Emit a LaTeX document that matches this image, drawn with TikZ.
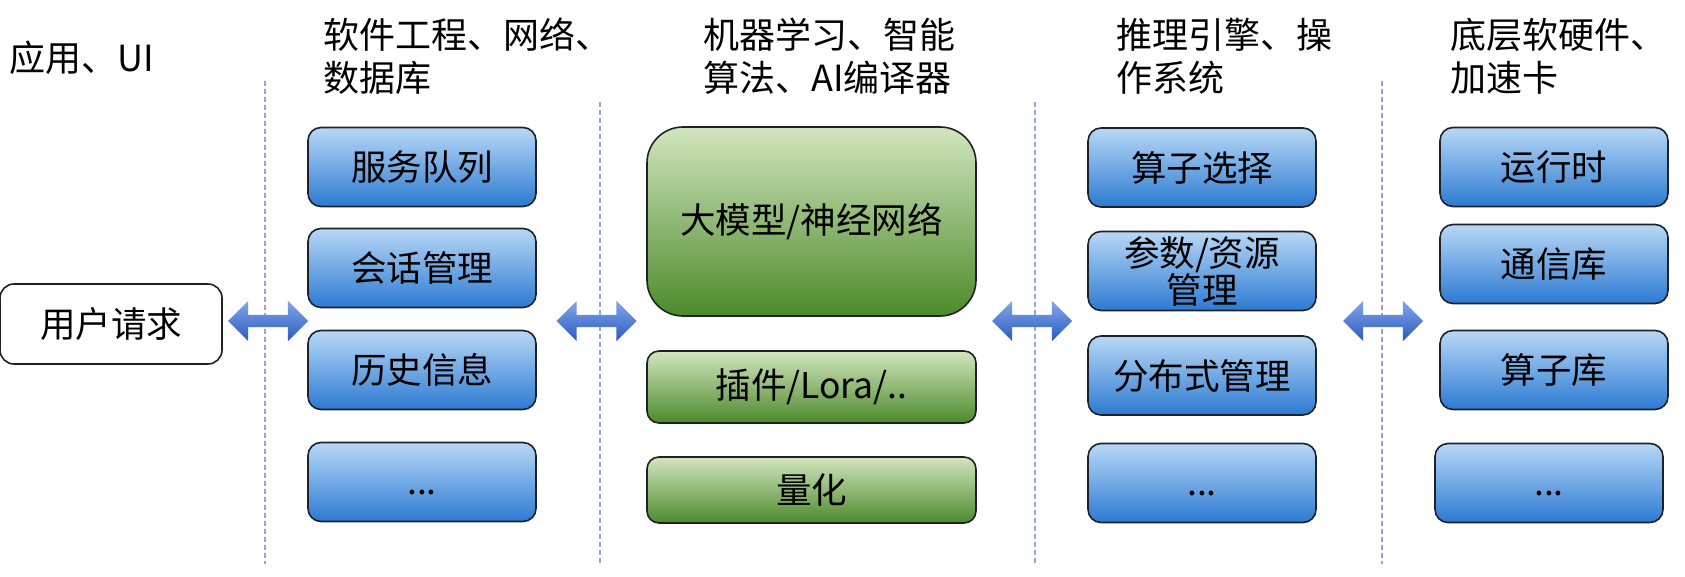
\documentclass[tikz,border=0pt]{standalone}
\usepackage{fontspec}
\setmainfont{Noto Sans CJK SC}
\usetikzlibrary{shapes.arrows}
\definecolor{blueTop}{HTML}{B8D8F6}
\definecolor{blueMid}{HTML}{6AA8E6}
\definecolor{blueBot}{HTML}{2C7AD2}
\definecolor{greenTop}{HTML}{D2E6BE}
\definecolor{greenMid}{HTML}{72A848}
\definecolor{greenBot}{HTML}{4C8A2B}
\definecolor{arrTop}{HTML}{82A8EA}
\definecolor{arrBot}{HTML}{2A5ABE}
\definecolor{sepcol}{HTML}{97A6D6}
\definecolor{edge}{HTML}{1E2228}
\newcommand{\dotsrow}{\vphantom{服}...}
\begin{document}
\begin{tikzpicture}[x=1pt,y=-1pt,
  boxbase/.style={draw=edge, line width=1.6pt, inner sep=0pt, align=center,
    font=\fontsize{35.5}{37}\selectfont},
  bluebox/.style={boxbase, rounded corners=13pt, top color=blueTop, middle color=blueMid,
    bottom color=blueBot, minimum width=228pt, minimum height=79pt},
  greenbox/.style={boxbase, rounded corners=12pt, top color=greenTop, middle color=greenMid,
    bottom color=greenBot, minimum width=329pt},
  whitebox/.style={boxbase, rounded corners=14pt, fill=white},
  title/.style={anchor=north west, inner sep=0pt, align=left,
    font=\fontsize{36}{43}\selectfont},
  dblarrow/.style={double arrow, double arrow head extend=14pt, inner xsep=0pt,
    inner ysep=6pt, minimum height=80pt, top color=arrTop, bottom color=arrBot,
    draw=none},
  sepline/.style={draw=sepcol, line width=1.4pt, dash pattern=on 5pt off 3pt}
]
\useasboundingbox (0,0) rectangle (1685,577);
\fill[white] (0,0) rectangle (1685,577);

% separators
\draw[sepline] (265,81) -- (265,564);
\draw[sepline] (600,102) -- (600,564);
\draw[sepline] (1035,102) -- (1035,564);
\draw[sepline] (1382,81) -- (1382,564);

% titles
\node[title] (t0) at (9,41) {应用、UI};
\node[title] (t1) at (323,18) {软件工程、网络、\\数据库};
\node[title] (t2) at (703,18) {机器学习、智能\\算法、AI编译器};
\node[title] (t3) at (1116,18) {推理引擎、操\\作系统};
\node[title] (t4) at (1450,18) {底层软硬件、\\加速卡};

% user
\node[whitebox, minimum width=222pt, minimum height=80pt] (user) at (111,324) {用户请求};

% column 1
\node[bluebox] (c1a) at (422,167) {服务队列};
\node[bluebox] (c1b) at (422,268) {会话管理};
\node[bluebox] (c1c) at (422,370) {历史信息};
\node[bluebox] (c1d) at (422,482) {\dotsrow};

% column 2
\node[greenbox, rounded corners=36pt, minimum height=189pt] (c2a) at (811.5,221.5) {大模型/神经网络};
\node[greenbox, minimum height=72pt] (c2b) at (811.5,387) {插件/Lora/..};
\node[greenbox, minimum height=66pt] (c2c) at (811.5,490) {量化};

% column 3
\node[bluebox] (c3a) at (1202,167.5) {算子选择};
\node[bluebox] (c3b) at (1202,271) {参数/资源\\管理};
\node[bluebox] (c3c) at (1202,375.5) {分布式管理};
\node[bluebox] (c3d) at (1202,483) {\dotsrow};

% column 4
\node[bluebox] (c4a) at (1554,167) {运行时};
\node[bluebox] (c4b) at (1554,264) {通信库};
\node[bluebox] (c4c) at (1554,370) {算子库};
\node[bluebox] (c4d) at (1549,483) {\dotsrow};

% double arrows
\node[dblarrow] (a1) at (268,321) {};
\node[dblarrow] (a2) at (596.5,321) {};
\node[dblarrow] (a3) at (1032,321) {};
\node[dblarrow] (a4) at (1383,321) {};
\end{tikzpicture}
\end{document}
